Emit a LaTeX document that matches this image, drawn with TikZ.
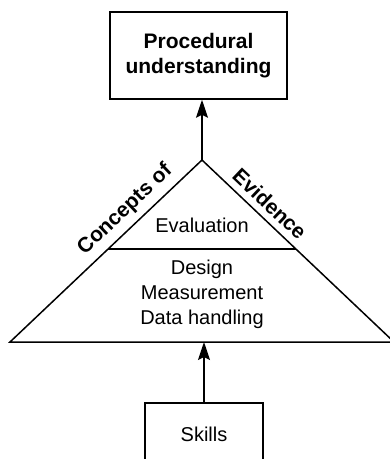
\documentclass[tikz,border=0pt]{standalone}
\usepackage{fontspec}
\setmainfont{Liberation Sans}
\usetikzlibrary{positioning, calc, arrows.meta}

\tikzset{
    box/.style = {shape = rectangle, draw = black, line width = 1.5pt, align = center},
    lbl/.style = {above = 3pt, sloped, font = \fontsize{21}{25}\selectfont\bfseries},
    arr/.style = {line width = 1.5pt, -{Stealth[length=18pt,width=12pt,inset=3pt]}}
}

\begin{document}
\begin{tikzpicture}[x = 1pt, y = -1pt, font = \fontsize{20}{25}\selectfont]
            \useasboundingbox (0, 0) rectangle (390, 459);

            \node [box, minimum width = 177pt, minimum height = 87pt, font = \fontsize{21}{25}\selectfont\bfseries] (proc) at (198.5, 55.5) {Procedural\\understanding};
            \coordinate (apex) at (202, 160);
            \coordinate (lc) at (10, 342);
            \coordinate (rc) at (394, 342);
            \coordinate (basemid) at (204, 342);
            \node (eval) at (202, 225) {Evaluation};
            \node [align = center] (layers) at (202, 294) {Design\\Measurement\\Data handling};
            \node [box, anchor = north, minimum width = 118pt, minimum height = 64pt] (skills) at (204, 402) {Skills};

            \draw [line width = 1.5pt] (lc) -- node [lbl, pos = 0.66] {Concepts of} (apex)
                -- node [lbl, pos = 0.30] {Evidence} (rc) -- cycle;
            \draw [line width = 1.5pt] ($(apex)!0.489!(lc)$) -- ($(apex)!0.489!(rc)$);

            \draw [arr] (apex) -- (apex |- proc.south);
            \draw [arr] (skills.north) -- (basemid);
\end{tikzpicture}
\end{document}
